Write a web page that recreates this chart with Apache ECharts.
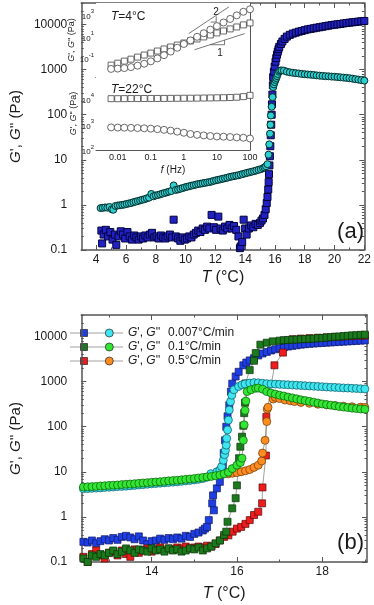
<!DOCTYPE html>
<html>
<head>
<meta charset="utf-8">
<script src="https://cdn.jsdelivr.net/npm/echarts@6/dist/echarts.min.js"></script>
<style>
  html, body { margin: 0; padding: 0; background: #fff; }
  #chart { width: 374px; height: 605px; }
</style>
</head>
<body>
<div id="chart"></div>
<script>
// ---- (a) slow ramp: G' (squares) and G'' (circles) vs T, [T in °C, modulus in Pa]
const gpA = [[4.35,0.27],[4.4,0.14],[4.5,0.22],[4.65,0.28],[4.8,0.2],[4.95,0.25],[5.1,0.17],[5.25,0.22],[5.35,0.13],[5.5,0.2],[5.65,0.26],[5.8,0.22],[5.95,0.18],[6.1,0.25],[6.25,0.2],[6.4,0.17],[6.55,0.21],[6.7,0.19],[6.85,0.17],[7.0,0.2],[7.15,0.18],[7.3,0.21],[7.45,0.19],[7.6,0.22],[7.75,0.24],[7.9,0.19],[8.05,0.2],[8.2,0.18],[8.35,0.21],[8.5,0.19],[8.65,0.18],[8.8,0.2],[8.95,0.22],[9.1,0.19],[9.2,0.47],[9.35,0.2],[9.5,0.18],[9.65,0.16],[9.8,0.19],[9.95,0.17],[10.1,0.18],[10.25,0.2],[10.4,0.19],[10.55,0.22],[10.7,0.24],[10.85,0.27],[11.0,0.25],[11.15,0.3],[11.3,0.28],[11.45,0.33],[11.6,0.3],[11.75,0.6],[11.9,0.32],[12.05,0.28],[12.2,0.55],[12.35,0.3],[12.5,0.27],[12.65,0.33],[12.8,0.3],[12.95,0.36],[13.1,0.3],[13.25,0.34],[13.4,0.28],[13.55,0.2],[13.65,0.11],[13.7,0.12],[13.8,0.15],[13.9,0.47],[14.0,0.3],[14.1,0.22],[14.25,0.3],[14.4,0.35],[14.55,0.32],[14.7,0.38],[14.85,0.36],[15.0,0.4],[15.1,0.45],[15.2,0.5],[15.3,0.6],[15.38,0.8],[15.45,1.1],[15.5,1.5],[15.55,2.2],[15.58,3.2],[15.6,4.8],[15.63,7.5],[15.66,12],[15.69,20],[15.72,35],[15.75,60],[15.78,100],[15.8,170],[15.83,280],[15.86,450],[15.88,680],[15.93,900],[15.98,1170],[16.04,1500],[16.09,1800],[16.14,2150],[16.19,2500],[16.24,2850],[16.29,3200],[16.4,3700],[16.5,4200],[16.65,4800],[16.8,5400],[17.0,5900],[17.2,6300],[17.4,6600],[17.6,6950],[17.8,7200],[18.0,7500],[18.2,7800],[18.4,8000],[18.6,8250],[18.8,8500],[19.0,8700],[19.2,8950],[19.4,9200],[19.6,9450],[19.8,9700],[20.0,9900],[20.2,10100],[20.4,10300],[20.6,10550],[20.8,10800],[21.0,11000],[21.2,11200],[21.4,11400],[21.6,11600],[21.8,11800],[22.0,12000]];
const gppA = [[4.3,0.85],[4.45,0.86],[4.6,0.88],[4.75,0.87],[4.9,0.9],[5.05,0.8],[5.15,0.78],[5.3,0.95],[5.45,0.97],[5.6,0.98],[5.75,1.0],[5.9,1.02],[6.05,1.05],[6.2,1.08],[6.35,1.1],[6.5,1.15],[6.65,1.18],[6.8,1.22],[6.95,1.26],[7.1,1.3],[7.25,1.34],[7.4,1.4],[7.55,1.45],[7.7,1.75],[7.85,1.55],[8.0,1.62],[8.15,1.66],[8.3,1.72],[8.45,1.78],[8.6,1.84],[8.75,1.9],[8.9,1.97],[9.05,2.03],[9.2,2.7],[9.35,2.15],[9.5,2.2],[9.65,2.28],[9.8,2.36],[9.95,2.45],[10.1,2.52],[10.25,2.6],[10.4,2.67],[10.55,2.74],[10.7,2.82],[10.85,2.9],[11.0,2.95],[11.15,3.02],[11.3,3.08],[11.45,3.15],[11.6,3.2],[11.75,3.3],[11.9,3.42],[12.05,3.52],[12.2,3.6],[12.35,3.7],[12.5,3.8],[12.65,3.9],[12.8,4.0],[12.95,4.15],[13.1,4.25],[13.25,4.35],[13.4,4.45],[13.55,4.55],[13.7,4.7],[13.85,4.85],[14.0,5.0],[14.15,5.15],[14.3,5.3],[14.45,5.45],[14.6,5.6],[14.75,5.8],[14.9,6.0],[15.05,6.2],[15.2,6.5],[15.3,6.8],[15.4,7.2],[15.5,8.0],[15.57,13],[15.62,22],[15.67,38],[15.7,60],[15.73,96],[15.78,150],[15.84,245],[15.88,410],[15.93,470],[15.98,530],[16.04,590],[16.09,650],[16.14,720],[16.19,800],[16.27,900],[16.35,950],[16.45,960],[16.6,950],[16.8,900],[17.0,870],[17.2,850],[17.4,835],[17.6,820],[17.8,800],[18.0,790],[18.2,780],[18.4,770],[18.6,760],[18.8,745],[19.0,735],[19.2,725],[19.4,715],[19.6,710],[19.8,700],[20.0,695],[20.2,685],[20.4,675],[20.6,665],[20.8,655],[21.0,645],[21.2,630],[21.4,615],[21.6,600],[21.8,585],[22.0,570]];

// ---- inset: frequency sweeps at 4 °C and 22 °C
const freq = [0.0063,0.01,0.0158,0.0251,0.0398,0.0631,0.1,0.158,0.251,0.398,0.631,1,1.58,2.51,3.98,6.31,10,15.8,25.1,39.8,63.1,100];
const gp4 = [0.0224,0.0339,0.0525,0.0794,0.123,0.191,0.288,0.447,0.692,1.05,1.58,2.45,3.8,5.75,8.91,13.5,20.9,31.6,49,74.1,115,174];
const gpp4 = [0.01,0.0107,0.012,0.0148,0.02,0.0302,0.0501,0.0933,0.186,0.398,0.891,2.0,4.27,9.12,19.5,41.7,89.1,191,407,871,1860,3160];
const gp22 = [10000,10000,10050,10100,10100,10150,10200,10200,10250,10300,10350,10400,10450,10500,10600,10700,10800,10900,11100,11400,12000,13500];
const gpp22 = [760,750,740,730,715,700,680,650,610,570,520,470,420,390,370,350,335,330,320,310,300,280];
// slope guides: [f, G]
const slope2 = [[1.4,18],[23,5300]];
const slope2Tri = [[6.5,210],[9.5,210],[9.5,700]];
const slope1 = [[2.1,0.59],[69,18]];
const slope1Tri = [[6.3,1.7],[17,1.7],[17,4.6]];

// ---- (b) three heating rates
const gp007 = [[12.4,0.28],[12.5,0.27],[12.6,0.3],[12.7,0.26],[12.8,0.29],[12.9,0.32],[13.0,0.3],[13.1,0.34],[13.2,0.31],[13.3,0.36],[13.4,0.38],[13.5,0.35],[13.6,0.32],[13.7,0.37],[13.8,0.3],[13.9,0.25],[14.0,0.29],[14.1,0.3],[14.2,0.33],[14.3,0.31],[14.4,0.34],[14.5,0.32],[14.6,0.35],[14.7,0.33],[14.8,0.38],[14.9,0.36],[15.0,0.42],[15.1,0.45],[15.2,0.5],[15.25,0.55],[15.3,0.6],[15.34,0.85],[15.42,2.0],[15.44,3.0],[15.46,1.4],[15.53,4.3],[15.6,6],[15.64,9],[15.67,13],[15.69,26],[15.72,50],[15.75,100],[15.78,170],[15.82,300],[15.86,600],[15.89,900],[15.97,1300],[16.04,1650],[16.15,2300],[16.22,2650],[16.3,2950],[16.4,3300],[16.5,3800],[16.6,4200],[16.7,4550],[16.8,4900],[16.9,5200],[17.0,5500],[17.1,5750],[17.2,6000],[17.3,6200],[17.4,6400],[17.5,6600],[17.6,6750],[17.7,6880],[17.8,7000],[17.9,7100],[18.0,7200],[18.1,7300],[18.2,7400],[18.3,7500],[18.4,7600],[18.5,7700],[18.6,7800],[18.7,7900],[18.8,8000],[18.9,8100],[19.0,8200]];
const gpp007 = [[12.4,4.2],[12.5,4.25],[12.6,4.3],[12.7,4.35],[12.8,4.4],[12.9,4.5],[13.0,4.55],[13.1,4.6],[13.2,4.7],[13.3,4.75],[13.4,4.8],[13.5,4.9],[13.6,5.0],[13.7,5.1],[13.8,5.2],[13.9,5.3],[14.0,5.4],[14.1,5.5],[14.2,5.6],[14.3,5.7],[14.4,5.8],[14.5,5.9],[14.6,6.0],[14.7,6.15],[14.8,6.3],[14.9,6.45],[15.0,6.6],[15.1,6.8],[15.2,7.1],[15.3,7.6],[15.39,9.1],[15.53,10],[15.6,11],[15.64,13],[15.68,18],[15.71,24],[15.73,30],[15.75,39],[15.76,55],[15.78,85],[15.8,140],[15.82,235],[15.85,360],[15.88,500],[15.93,660],[16.04,780],[16.12,850],[16.19,890],[16.3,930],[16.4,950],[16.5,940],[16.6,920],[16.7,900],[16.8,890],[16.9,880],[17.0,870],[17.1,860],[17.2,850],[17.3,840],[17.4,830],[17.5,820],[17.6,810],[17.7,800],[17.8,790],[17.9,780],[18.0,770],[18.1,760],[18.2,750],[18.3,745],[18.4,735],[18.5,725],[18.6,720],[18.7,710],[18.8,705],[18.9,695],[19.0,690]];
const gp01 = [[12.4,0.12],[12.5,0.1],[12.6,0.14],[12.7,0.13],[12.8,0.15],[12.9,0.14],[13.0,0.16],[13.1,0.18],[13.2,0.15],[13.3,0.17],[13.4,0.2],[13.5,0.18],[13.6,0.16],[13.7,0.19],[13.8,0.18],[13.9,0.17],[14.0,0.2],[14.1,0.18],[14.2,0.19],[14.3,0.17],[14.4,0.2],[14.5,0.18],[14.6,0.19],[14.7,0.17],[14.8,0.18],[14.9,0.2],[15.0,0.19],[15.1,0.21],[15.2,0.18],[15.3,0.2],[15.4,0.22],[15.5,0.26],[15.6,0.3],[15.7,0.4],[15.75,0.47],[15.78,0.78],[15.89,1.55],[15.97,2.6],[16.0,5],[16.02,10],[16.05,20],[16.08,36],[16.12,60],[16.15,105],[16.17,200],[16.19,340],[16.2,910],[16.3,1800],[16.4,2900],[16.44,4300],[16.55,6600],[16.7,7300],[16.84,7800],[17.0,8100],[17.1,8300],[17.2,8400],[17.3,8500],[17.4,8600],[17.5,8700],[17.6,8800],[17.7,8900],[17.8,9000],[17.9,9200],[18.0,9300],[18.1,9500],[18.2,9700],[18.3,9900],[18.4,10000],[18.5,10200],[18.6,10400],[18.7,10600],[18.8,10700],[18.9,10900],[19.0,11000]];
const gpp01 = [[12.4,4.6],[12.5,4.65],[12.6,4.7],[12.7,4.75],[12.8,4.85],[12.9,4.9],[13.0,5.0],[13.1,5.05],[13.2,5.1],[13.3,5.2],[13.4,5.3],[13.5,5.35],[13.6,5.45],[13.7,5.55],[13.8,5.65],[13.9,5.75],[14.0,5.85],[14.1,5.95],[14.2,6.05],[14.3,6.15],[14.4,6.3],[14.5,6.4],[14.6,6.5],[14.7,6.65],[14.8,6.8],[14.9,6.95],[15.0,7.1],[15.1,7.3],[15.2,7.5],[15.3,7.7],[15.4,7.9],[15.5,8.2],[15.6,8.5],[15.7,9.0],[15.8,9.8],[15.89,11.8],[16.0,14],[16.08,16],[16.12,20],[16.15,50],[16.17,110],[16.19,230],[16.21,370],[16.24,600],[16.33,660],[16.44,710],[16.5,720],[16.6,680],[16.7,600],[16.8,560],[16.9,530],[17.0,500],[17.1,480],[17.2,455],[17.3,435],[17.4,415],[17.5,395],[17.6,380],[17.7,365],[17.8,350],[17.9,335],[18.0,320],[18.1,310],[18.2,300],[18.3,290],[18.4,280],[18.5,272],[18.6,265],[18.7,258],[18.8,252],[18.9,247],[19.0,243]];
const gp05 = [[12.4,0.13],[12.5,0.1],[12.6,0.15],[12.7,0.18],[12.8,0.14],[12.9,0.12],[13.0,0.16],[13.1,0.17],[13.2,0.14],[13.3,0.18],[13.4,0.15],[13.5,0.13],[13.6,0.19],[13.7,0.16],[13.8,0.18],[13.9,0.2],[14.0,0.17],[14.1,0.19],[14.2,0.21],[14.3,0.18],[14.4,0.2],[14.5,0.19],[14.6,0.21],[14.7,0.2],[14.8,0.22],[14.9,0.2],[15.0,0.21],[15.1,0.22],[15.2,0.21],[15.3,0.23],[15.4,0.22],[15.5,0.25],[15.6,0.3],[15.7,0.36],[15.8,0.39],[15.9,0.47],[16.0,0.55],[16.1,0.6],[16.2,0.7],[16.3,0.85],[16.4,1.1],[16.5,1.3],[16.59,2.0],[16.6,4.5],[16.68,23],[16.69,165],[16.88,2300],[17.08,4400],[17.31,8700],[17.5,9000],[17.7,9200],[17.9,9400],[18.1,9600],[18.3,9800],[18.5,10000],[18.7,10200],[18.9,10400],[19.0,10500]];
const gpp05 = [[15.8,9.0],[15.9,9.3],[16.0,9.6],[16.1,10.0],[16.2,10.5],[16.3,11.2],[16.4,12.5],[16.5,14],[16.58,17.4],[16.6,26],[16.66,50],[16.7,130],[16.71,245],[16.73,270],[16.85,410],[16.9,450],[17.0,420],[17.13,390],[17.25,375],[17.35,360],[17.5,345],[17.7,330],[17.9,315],[18.1,305],[18.3,295],[18.5,285],[18.7,278],[18.9,272],[19.0,268]];

// tick positions
const decades = [0.1, 1, 10, 100, 1000, 10000];
const tTicksA = [4, 6, 8, 10, 12, 14, 16, 18, 20, 22];
const tMinorA = [5, 7, 9, 11, 13, 15, 17, 19, 21];
const tTicksB = [14, 16, 18];
const tMinorB = [13, 15, 17, 19];
const fTicks = [0.01, 0.1, 1, 10, 100];

function logMinors(lo, hi) {
  const out = [];
  for (let d = lo; d < hi; d *= 10) {
    for (let k = 2; k <= 9; k++) out.push(+(d * k).toPrecision(3));
  }
  return out;
}

const FONT = "'Liberation Sans', Arial, sans-serif";
const TICKFONT = "'Liberation Sans Narrow', 'Liberation Sans', Arial, sans-serif";
const AX = '#555';
const pair = (f, g) => f.map((v, i) => [v, g[i]]);

// four axes that box one grid: data axis + minor overlay, opposite side major + minor
function frame(dim, grid, cfg) {
  const sides = dim === 'x' ? ['bottom', 'top'] : ['left', 'right'];
  const base = { gridIndex: grid, type: cfg.type, min: cfg.min, max: cfg.max, splitLine: { show: false } };
  const out = [];
  sides.forEach((pos, s) => {
    out.push(Object.assign({}, base, {
      position: pos,
      axisLine: { show: true, onZero: false, lineStyle: { color: AX, width: cfg.lw || 1 } },
      axisTick: { show: true, inside: true, length: cfg.tl || 4, customValues: cfg.majors, lineStyle: { color: AX, width: 1 } },
      axisLabel: s === 0 && cfg.labels ? Object.assign({
        show: true, customValues: cfg.labels, color: '#1a1a1a', fontFamily: TICKFONT, fontSize: 12, margin: 4,
        showMinLabel: true, showMaxLabel: true
      }, cfg.label || {}) : { show: false },
      name: s === 0 ? cfg.name : '',
      nameLocation: 'middle',
      nameGap: cfg.nameGap,
      nameTextStyle: cfg.nameStyle
    }));
    if (cfg.minors) {
      out.push(Object.assign({}, base, {
        position: pos,
        axisLine: { show: false },
        axisTick: { show: true, inside: true, length: (cfg.tl || 4) / 2, customValues: cfg.minors, lineStyle: { color: AX, width: 1 } },
        axisLabel: { show: false }
      }));
    }
  });
  return out;
}

const supFmt = v => '{b|10}{s|' + Math.round(Math.log10(v)) + '}';
const supRich = {
  b: { fontSize: 8, fontFamily: FONT, color: '#222', verticalAlign: 'bottom', lineHeight: 12 },
  s: { fontSize: 6, fontFamily: FONT, color: '#222', verticalAlign: 'top', lineHeight: 12 }
};
const modName = '{i|G}\', {i|G}\'\' (Pa)';
const nameRich = size => ({ i: { fontStyle: 'italic', fontSize: size, fontFamily: FONT, color: '#1a1a1a' } });
const tName = '{i|T} (°C)';

const xAxes = [].concat(
  // 0-3 : panel (a)
  frame('x', 0, { type: 'value', min: 3, max: 22, majors: tTicksA, minors: tMinorA, labels: tTicksA, lw: 1.5, tl: 5,
    name: tName, nameGap: 20, nameStyle: { fontSize: 16, fontFamily: FONT, color: '#1a1a1a', rich: nameRich(16) } }),
  // 4-7 : panel (b)
  frame('x', 1, { type: 'value', min: 12.35, max: 19.05, majors: tTicksB, minors: tMinorB, labels: tTicksB, lw: 1.5, tl: 5,
    name: tName, nameGap: 24, nameStyle: { fontSize: 16, fontFamily: FONT, color: '#1a1a1a', rich: nameRich(16) } }),
  // 8-11 : upper inset
  frame('x', 2, { type: 'log', min: 0.0022, max: 100, majors: fTicks, minors: logMinors(0.001, 100), tl: 3 }),
  // 12-15 : lower inset
  frame('x', 3, { type: 'log', min: 0.0022, max: 100, majors: fTicks, minors: logMinors(0.001, 100), tl: 3,
    labels: fTicks, label: { fontSize: 9, margin: 3, fontFamily: FONT, formatter: v => String(+v.toPrecision(2)) },
    name: '{i|f} (Hz)', nameGap: 15, nameStyle: { fontSize: 10, fontFamily: FONT, color: '#1a1a1a', rich: nameRich(10) } })
);

const yAxes = [].concat(
  frame('y', 0, { type: 'log', min: 0.1, max: 30000, majors: decades, minors: logMinors(0.1, 10000).concat([20000, 30000]), labels: decades,
    lw: 1.5, tl: 5, label: { margin: 14, formatter: v => v < 1 ? '0.1' : String(Math.round(v)) },
    name: modName, nameGap: 40, nameStyle: { fontSize: 15, fontFamily: FONT, color: '#1a1a1a', rich: nameRich(15) } }),
  frame('y', 1, { type: 'log', min: 0.1, max: 30000, majors: decades, minors: logMinors(0.1, 10000).concat([20000, 30000]), labels: decades,
    lw: 1.5, tl: 5, label: { margin: 14, formatter: v => v < 1 ? '0.1' : String(Math.round(v)) },
    name: modName, nameGap: 40, nameStyle: { fontSize: 15, fontFamily: FONT, color: '#1a1a1a', rich: nameRich(15) } }),
  frame('y', 2, { type: 'log', min: 0.0018, max: 12000, majors: [0.01, 0.1, 1, 10, 100, 1000, 10000], labels: [0.1, 10, 1000], tl: 3,
    label: { margin: 2, formatter: supFmt, rich: supRich },
    name: modName, nameGap: 13, nameStyle: { fontSize: 9, fontFamily: FONT, color: '#222', rich: nameRich(9) } }),
  frame('y', 3, { type: 'log', min: 100, max: 70000, majors: [100, 1000, 10000], minors: logMinors(100, 10000).concat([20000, 30000, 40000, 50000, 60000]), labels: [100, 1000, 10000], tl: 3,
    label: { margin: 2, formatter: supFmt, rich: supRich },
    name: modName, nameGap: 13, nameStyle: { fontSize: 9, fontFamily: FONT, color: '#222', rich: nameRich(9) } })
);
// axis index lookup: each grid owns consecutive axes; first of each block is the data axis
const XI = [0, 4, 8, 12];
const YI = [0, 4, 8, 11];

function scatter(grid, data, symbol, size, color, border, z) {
  return { type: 'scatter', xAxisIndex: XI[grid], yAxisIndex: YI[grid], data, symbol, symbolSize: size, z: z || 2,
    itemStyle: { color, borderColor: border, borderWidth: 1, opacity: 1 } };
}
function lined(grid, data, symbol, color, border) {
  return { type: 'line', xAxisIndex: XI[grid], yAxisIndex: YI[grid], data, symbol, symbolSize: symbol === 'rect' ? 7 : 8,
    showAllSymbol: true, lineStyle: { color: '#888', width: 0.8 },
    itemStyle: { color, borderColor: border, borderWidth: 0.7 } };
}
function guide(data) {
  return { type: 'line', xAxisIndex: XI[2], yAxisIndex: YI[2], data, symbol: 'none', lineStyle: { color: '#555', width: 0.8 }, z: 3 };
}
function openMarks(grid, data, symbol) {
  return { type: 'line', xAxisIndex: XI[grid], yAxisIndex: YI[grid], data, symbol, symbolSize: symbol === 'rect' ? 6 : 7,
    showAllSymbol: true, lineStyle: { color: '#666', width: 0.7 },
    itemStyle: { color: '#fff', borderColor: '#444', borderWidth: 0.8 }, z: 3 };
}

const series = [
  scatter(0, gpA, 'rect', 7, '#2222c4', '#03033a'),
  scatter(0, gppA, 'circle', 7, '#2ccfcf', '#042e2e', 3),
  openMarks(2, pair(freq, gp4), 'rect'),
  openMarks(2, pair(freq, gpp4), 'circle'),
  guide(slope2), guide(slope2Tri), guide(slope1), guide(slope1Tri),
  openMarks(3, pair(freq, gp22), 'rect'),
  openMarks(3, pair(freq, gpp22), 'circle'),
  lined(1, gp007, 'rect', '#1f3fe6', '#101860'),
  lined(1, gp05, 'rect', '#ee1c1c', '#5a0a0a'),
  lined(1, gp01, 'rect', '#1b7a1b', '#0b300b'),
  lined(1, gpp05, 'circle', '#ff8c1e', '#6a3a08'),
  lined(1, gpp007, 'circle', '#3ee6f0', '#0c5560'),
  lined(1, gpp01, 'circle', '#33e633', '#0c5a0c')
];

// legend of panel (b): line-square-circle glyph + label
const legendRows = [
  { y: 333, sq: '#1f3fe6', ci: '#3ee6f0', rate: '0.007°C/min' },
  { y: 347, sq: '#1b7a1b', ci: '#33e633', rate: '0.1°C/min' },
  { y: 361, sq: '#ee1c1c', ci: '#ff8c1e', rate: '0.5°C/min' }
];
const legendGraphic = [];
legendRows.forEach(r => {
  legendGraphic.push(
    { type: 'line', shape: { x1: 70, y1: r.y, x2: 123, y2: r.y }, style: { stroke: '#888', lineWidth: 0.8 } },
    { type: 'rect', shape: { x: 80.5, y: r.y - 3.5, width: 7, height: 7 }, style: { fill: r.sq, stroke: '#222', lineWidth: 0.7 } },
    { type: 'circle', shape: { cx: 109.3, cy: r.y, r: 4 }, style: { fill: r.ci, stroke: '#222', lineWidth: 0.7 } },
    { type: 'text', x: 128, y: r.y, style: { text: '{i|G}\', {i|G}\'\'', rich: { i: { fontStyle: 'italic', fontSize: 12, fontFamily: FONT, fill: '#1a1a1a' } }, fontSize: 12, fontFamily: FONT, fill: '#1a1a1a', verticalAlign: 'middle' } },
    { type: 'text', x: 168, y: r.y, style: { text: r.rate, fontSize: 12, fontFamily: FONT, fill: '#1a1a1a', verticalAlign: 'middle' } }
  );
});

const itRich = size => ({ i: { fontStyle: 'italic', fontSize: size, fontFamily: FONT, fill: '#1a1a1a' } });
const graphic = legendGraphic.concat([
  { type: 'text', x: 111, y: 17, z: 100, style: { text: '{i|T}=4°C', rich: itRich(12), fontSize: 12, fontFamily: FONT, fill: '#1a1a1a', verticalAlign: 'middle' } },
  { type: 'text', x: 111, y: 90, z: 100, style: { text: '{i|T}=22°C', rich: itRich(12), fontSize: 12, fontFamily: FONT, fill: '#1a1a1a', verticalAlign: 'middle' } },
  { type: 'text', x: 216, y: 12, z: 100, style: { text: '2', fontSize: 10, fontFamily: FONT, fill: '#1a1a1a', align: 'center', verticalAlign: 'middle' } },
  { type: 'text', x: 220, y: 53, z: 100, style: { text: '1', fontSize: 10, fontFamily: FONT, fill: '#1a1a1a', align: 'center', verticalAlign: 'middle' } },
  { type: 'text', x: 364, y: 232, z: 100, style: { text: '(a)', fontSize: 22, fontFamily: FONT, fill: '#1a1a1a', align: 'right', verticalAlign: 'middle' } },
  { type: 'text', x: 364, y: 543, z: 100, style: { text: '(b)', fontSize: 22, fontFamily: FONT, fill: '#1a1a1a', align: 'right', verticalAlign: 'middle' } }
]);

const chart = echarts.init(document.getElementById('chart'), null, { renderer: 'canvas' });
chart.setOption({
  animation: false,
  backgroundColor: '#fff',
  grid: [
    { left: 61, top: 3, width: 306, height: 247 },
    { left: 61, top: 315, width: 306, height: 247 },
    { left: 96, top: 3, width: 154, height: 74, show: true, backgroundColor: '#fff', borderWidth: 0, z: 1 },
    { left: 96, top: 77, width: 154, height: 73, show: true, backgroundColor: '#fff', borderWidth: 0, z: 1 }
  ],
  xAxis: xAxes,
  yAxis: yAxes,
  series,
  graphic
});
</script>
</body>
</html>
